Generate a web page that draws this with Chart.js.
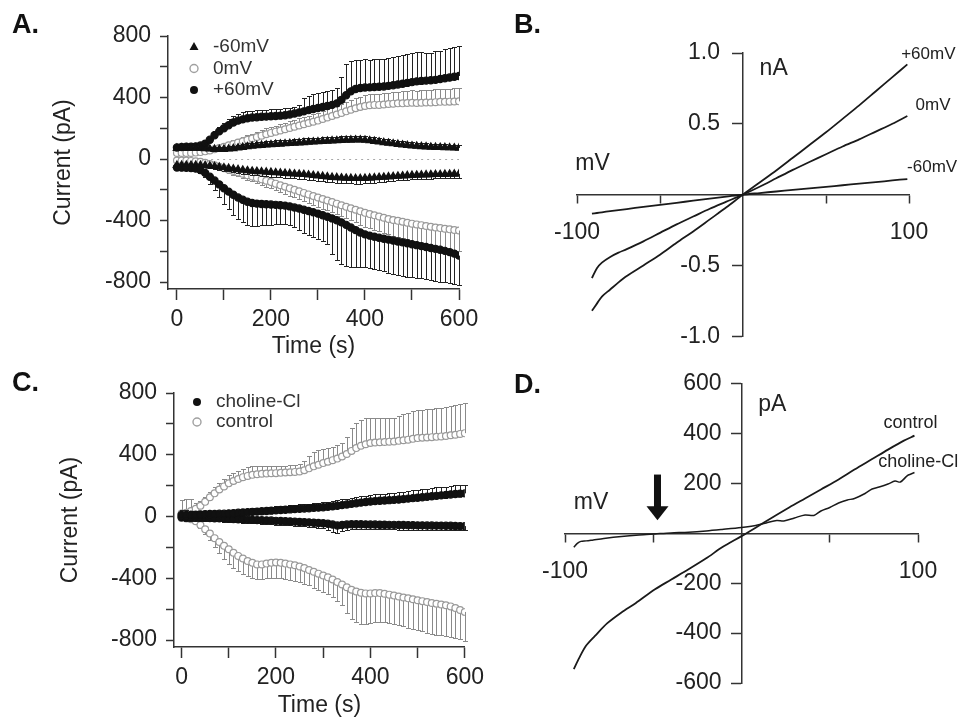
<!DOCTYPE html>
<html lang="en">
<head>
<meta charset="UTF-8">
<title>Current time course and I-V curves</title>
<style>
    body { margin: 0; background: #fff; }
    #fig { position: relative; width: 971px; height: 719px; overflow: hidden; }
    canvas { position: absolute; }
    .panel { position: absolute; font: bold 27px "Liberation Sans", Arial, sans-serif; line-height: 27px; color: #111; }
</style>
</head>
<body>
<div id="fig">
    <canvas id="chartA" width="490" height="360" style="left:0;top:0"></canvas>
    <canvas id="chartB" width="481" height="360" style="left:490px;top:0"></canvas>
    <canvas id="chartC" width="490" height="359" style="left:0;top:360px"></canvas>
    <canvas id="chartD" width="481" height="359" style="left:490px;top:360px"></canvas>
    <div class="panel" style="left:12px;top:11px">A.</div>
    <div class="panel" style="left:514px;top:11px">B.</div>
    <div class="panel" style="left:12px;top:369px">C.</div>
    <div class="panel" style="left:514px;top:371px">D.</div>
</div>

<script src="https://cdn.jsdelivr.net/npm/chart.js@4.4.0/dist/chart.umd.min.js"></script>
<script>
    // ---- time course data (panels A and C), one sample every 10 s ----
    const times = [0,10,20,30,40,50,60,70,80,90,100,110,120,130,140,150,160,170,180,190,
        200,210,220,230,240,250,260,270,280,290,300,310,320,330,340,350,360,370,380,390,
        400,410,420,430,440,450,460,470,480,490,500,510,520,530,540,550,560,570,580,590,600];
    const timeTicks = [0, 100, 200, 300, 400, 500, 600];
    const timeLabels = [0, 200, 400, 600];
    const currentTicks = [-800, -600, -400, -200, 0, 200, 400, 600, 800];
    const currentLabels = [-800, -400, 0, 400, 800];

    const aNames = ['-60mV', '0mV', '+60mV'];
    // -60 mV holding (triangles)
    const aNeg60Up = [70,72,72,72,72,70,68,66,64,63, 64,66,69,73,77,81,85,88,90,92,
        94,96,98,100,102,104,106,108,110,112, 113,115,117,119,120,122,123,124,125,125,
        123,120,116,112,108,104,100,96,92,89, 86,84,82,80,78,77,76,75,74,73, 72];
    const aNeg60UpErr = [10,10,10,10,10,10,10,12,12,14, 15,16,18,20,20,22,22,24,24,25,
        25,25,25,25,25,25,25,26,26,26, 26,26,26,26,26,26,26,25,25,25,
        25,25,25,24,24,24,24,24,23,23, 23,22,22,22,22,21,21,21,20,20, 20];
    const aNeg60Lo = [-40,-40,-40,-40,-40,-40,-42,-45,-48,-52, -56,-60,-64,-68,-72,-75,-78,-80,-82,-84,
        -86,-88,-90,-92,-94,-96,-98,-100,-103,-106, -109,-112,-115,-118,-120,-122,-124,-125,-126,-126,
        -125,-123,-121,-119,-117,-115,-113,-111,-109,-107, -105,-104,-103,-102,-101,-100,-100,-99,-98,-97, -96];
    const aNeg60LoErr = [10,10,10,10,10,12,12,14,16,18, 20,20,22,22,24,24,26,26,28,28,
        30,30,30,30,30,30,32,32,32,32, 32,32,34,34,34,34,34,34,34,34,
        32,32,32,30,30,30,30,28,28,28, 28,26,26,26,26,26,25,25,25,25, 25];
    // 0 mV holding (open grey circles)
    const aZeroUp = [40,40,40,40,42,45,50,56,63,71, 80,89,98,107,116,125,134,143,152,161,
        170,178,186,194,202,210,218,226,234,242, 250,260,270,280,290,300,310,320,330,338,
        345,350,352,352,355,358,360,362,362,364, 366,364,366,368,368,370,372,372,373,374, 375];
    const aZeroUpErr = [8,8,8,8,10,10,12,14,16,18, 20,22,24,26,28,30,32,34,36,38,
        40,40,42,42,44,44,46,46,48,48, 50,52,54,56,58,60,62,64,66,68,
        70,70,72,72,74,74,76,76,78,78, 80,80,80,82,82,84,84,85,85,85, 85];
    const aZeroLo = [-10,-10,-10,-12,-14,-18,-24,-32,-40,-50, -60,-69,-78,-87,-96,-105,-114,-123,-132,-141,
        -150,-160,-170,-180,-190,-200,-210,-220,-230,-240, -250,-260,-270,-280,-290,-300,-310,-320,-330,-340,
        -350,-358,-366,-374,-382,-390,-396,-402,-408,-414, -420,-425,-430,-435,-440,-445,-449,-453,-457,-461, -465];
    const aZeroLoErr = [8,8,8,8,10,10,12,14,16,18, 20,22,24,26,28,30,32,34,36,38,
        40,42,44,46,48,50,52,54,56,58, 60,62,64,66,68,70,74,78,82,86,
        90,92,94,96,98,100,102,104,106,108, 110,112,114,116,118,120,122,124,126,128, 130];
    // +60 mV holding (filled black circles)
    const aPos60Up = [75,78,80,80,82,88,100,125,155,180, 200,220,238,250,258,265,270,272,275,276,
        278,280,282,285,290,296,303,310,318,325, 332,338,345,352,362,385,415,440,455,462,
        465,466,468,470,472,476,480,485,490,495, 500,505,508,510,512,515,520,525,530,535, 540];
    const aPos60UpErr = [8,8,8,10,10,12,15,20,25,30, 35,38,40,42,45,45,45,45,45,45,
        45,45,45,45,45,45,50,90,95,95, 100,100,100,100,100,150,200,200,190,185,
        185,180,180,180,180,180,185,185,185,185, 190,190,185,180,180,185,185,190,195,195, 195];
    const aPos60Lo = [-55,-56,-57,-58,-62,-72,-90,-115,-140,-165, -190,-212,-232,-250,-265,-278,-286,-290,-292,-294,
        -296,-298,-300,-303,-308,-315,-322,-330,-338,-346, -355,-365,-375,-386,-398,-412,-428,-445,-462,-478,
        -490,-498,-505,-512,-518,-524,-530,-536,-542,-548, -554,-560,-566,-572,-578,-584,-590,-597,-605,-615, -628];
    const aPos60LoErr = [10,10,10,12,15,20,30,45,60,80, 100,115,130,140,145,150,148,145,140,135,
        130,125,122,120,118,125,140,150,158,162, 165,170,180,230,260,270,265,255,240,225,
        215,212,210,210,212,215,218,220,220,218, 215,212,210,210,210,210,208,205,200,195, 190];

    const cNames = ['choline-Cl', 'control'];
    const cCholUp = [10,10,12,12,14,15,16,17,18,18, 20,22,24,26,28,30,32,34,36,38,
        40,42,44,46,48,50,52,54,56,58, 60,63,66,70,74,78,82,86,90,94,
        97,100,102,104,106,108,110,113,116,119, 122,125,128,131,134,137,140,143,146,148, 150];
    const cCholUpErr = [30,30,25,22,20,20,20,20,20,20, 20,20,20,22,22,22,24,24,24,24,
        25,25,26,26,28,28,30,30,32,32, 34,34,36,36,38,38,40,40,42,42,
        44,44,45,45,46,46,48,48,50,50, 50,52,52,52,54,54,54,55,55,55, 55];
    const cCholLo = [-5,-6,-6,-7,-8,-9,-10,-11,-12,-13, -15,-16,-18,-19,-20,-22,-23,-24,-25,-26,
        -28,-29,-30,-32,-33,-35,-36,-38,-40,-42, -44,-47,-52,-58,-55,-52,-50,-50,-50,-51,
        -52,-52,-53,-53,-54,-54,-55,-55,-56,-56, -57,-57,-58,-58,-59,-59,-60,-60,-61,-62, -62];
    const cCholLoErr = [20,20,20,20,20,20,20,20,20,20, 20,20,20,20,22,22,22,22,24,24,
        24,24,26,26,26,26,28,28,30,30, 32,40,50,50,40,34,32,30,30,30,
        30,30,30,30,30,30,30,30,30,30, 30,30,30,30,30,30,30,28,28,28, 28];
    const cCtrlUp = [20,25,35,50,70,95,125,150,175,195, 215,230,243,255,263,270,274,277,279,280,
        281,283,285,287,289,292,300,312,325,335, 346,355,365,375,389,405,425,443,458,468,
        476,479,481,483,485,486,490,494,498,503, 508,510,512,514,516,519,522,526,530,535, 540];
    const cCtrlUpErr = [90,90,80,40,30,30,35,40,45,50, 52,54,55,55,55,55,50,48,46,45,
        43,43,43,44,45,45,60,80,90,95, 90,90,88,86,86,110,150,165,170,170,
        165,160,160,158,155,150,160,170,175,178, 180,182,184,185,186,187,188,190,192,194, 195];
    const cCtrlLo = [-10,-12,-18,-30,-55,-82,-110,-140,-165,-190, -212,-235,-255,-272,-288,-300,-310,-310,-305,-300,
        -298,-300,-305,-310,-316,-324,-334,-346,-358,-370, -382,-394,-408,-424,-440,-458,-474,-486,-494,-498,
        -498,-496,-496,-500,-506,-512,-518,-524,-530,-536, -542,-548,-554,-560,-565,-570,-575,-582,-592,-605, -618];
    const cCtrlLoErr = [10,10,12,15,20,30,40,55,70,85, 95,100,100,100,100,98,96,95,95,96,
        98,100,100,100,100,100,100,100,102,104, 106,110,115,120,130,170,190,200,200,195,
        190,190,188,186,185,185,186,188,190,192, 195,196,198,200,200,200,198,196,195,190, 185];

    // ---- I-V data (panels B and D) ----
    const voltTicks = [-100, -50, 50, 100];
    const voltLabels = [-100, 100];
    const bVolts = [-91,-88,-85,-80,-75,-70,-60,-50,-40,-30,-20,-10,0,10,20,30,40,50,60,70,80,90,99];
    const bPos60 = [-0.82,-0.77,-0.72,-0.67,-0.62,-0.575,-0.50,-0.425,-0.34,-0.26,-0.175,-0.09,0,
        0.085,0.17,0.26,0.35,0.44,0.535,0.63,0.73,0.83,0.92];
    const bZero = [-0.59,-0.52,-0.48,-0.44,-0.41,-0.385,-0.33,-0.27,-0.21,-0.155,-0.10,-0.05,0,
        0.055,0.115,0.175,0.23,0.285,0.34,0.39,0.445,0.50,0.555];
    const bNeg60 = [-0.135,-0.13,-0.125,-0.117,-0.11,-0.102,-0.087,-0.072,-0.058,-0.043,-0.028,-0.014,0,
        0.011,0.022,0.033,0.044,0.055,0.066,0.077,0.088,0.10,0.11];
    const bTicks = [-1, -0.5, 0.5, 1];

    const dCtrlVolts = [-95,-92,-88,-83,-76,-68,-60,-49,-40,-30,-20,-11,0,8,17,27,36,45,55,64,74,83,92,98];
    const dCtrl = [-544,-500,-450,-411,-360,-317,-280,-224,-186,-144,-100,-56,-11,23,62,104,140,176,216,256,298,336,372,392];
    const dCholVolts = [-95,-93,-91,-88,-84,-78,-68,-58,-49,-40,-30,-20,-11,0,8,14,20,24,30,36,41,45,50,55,60,64,70,74,78,83,87,90,94,96,98];
    const dChol = [-56,-40,-32,-30,-26,-20,-12,-6,-2,2,5,10,16,24,32,42,52,50,62,74,72,90,104,122,134,140,160,178,186,198,210,206,232,238,244];
    const dTicks = [-600, -400, -200, 200, 400, 600];

    // ---- plugins ----
    const errorBars = {
        id: 'errorBars',
        beforeDatasetDraw(chart, args) {
            const ds = chart.data.datasets[args.index];
            if (!ds.errors) return;
            const xs = chart.scales.x, ys = chart.scales.y, ctx = chart.ctx;
            ctx.save();
            ctx.strokeStyle = ds.errorColor;
            ctx.lineWidth = 1;
            ctx.beginPath();
            ds.data.forEach((p, i) => {
                const px = Math.round(xs.getPixelForValue(p.x)) + 0.5;
                const y0 = ys.getPixelForValue(p.y);
                const y1 = Math.round(ys.getPixelForValue(p.y + ds.errorDir * ds.errors[i])) + 0.5;
                ctx.moveTo(px, y0);
                ctx.lineTo(px, y1);
                ctx.moveTo(px - 2.5, y1);
                ctx.lineTo(px + 2.5, y1);
            });
            ctx.stroke();
            ctx.restore();
        }
    };

    const zeroLine = {
        id: 'zeroLine',
        beforeDatasetsDraw(chart, args, opts) {
            if (!opts.show) return;
            const xs = chart.scales.x, ys = chart.scales.y, ctx = chart.ctx;
            const y = Math.round(ys.getPixelForValue(0)) + 0.5;
            ctx.save();
            ctx.strokeStyle = '#a8a8a8';
            ctx.setLineDash([2, 4]);
            ctx.beginPath();
            ctx.moveTo(xs.getPixelForValue(opts.from), y);
            ctx.lineTo(xs.getPixelForValue(600), y);
            ctx.stroke();
            ctx.restore();
        }
    };

    function drawMarker(ctx, kind, x, y) {
        ctx.beginPath();
        if (kind === 'triangle') {
            ctx.moveTo(x, y - 5);
            ctx.lineTo(x + 4.5, y + 3);
            ctx.lineTo(x - 4.5, y + 3);
            ctx.closePath();
            ctx.fillStyle = '#111';
            ctx.fill();
        } else if (kind === 'open') {
            ctx.arc(x, y, 4, 0, Math.PI * 2);
            ctx.fillStyle = '#fff';
            ctx.fill();
            ctx.strokeStyle = '#a0a0a0';
            ctx.lineWidth = 1.4;
            ctx.stroke();
        } else {
            ctx.arc(x, y, 4, 0, Math.PI * 2);
            ctx.fillStyle = '#111';
            ctx.fill();
        }
    }

    const markerLegend = {
        id: 'markerLegend',
        afterDraw(chart, args, opts) {
            if (!opts.rows) return;
            const ctx = chart.ctx, area = chart.chartArea;
            ctx.save();
            ctx.font = '19px "Liberation Sans", Arial, sans-serif';
            ctx.textBaseline = 'middle';
            opts.rows.forEach((row, i) => {
                const x = area.left + opts.dx, y = area.top + opts.dy + i * opts.gap;
                drawMarker(ctx, row.kind, x, y);
                ctx.fillStyle = '#333';
                ctx.fillText(row.text, x + 19, y);
            });
            ctx.restore();
        }
    };

    // text placed in data units, y tick labels right-aligned left of the crossing axis, and the arrow
    const textMarks = {
        id: 'textMarks',
        afterDatasetsDraw(chart, args, opts) {
            const ctx = chart.ctx, xs = chart.scales.x, ys = chart.scales.y;
            ctx.save();
            ctx.textBaseline = 'middle';
            ctx.fillStyle = '#222';
            (opts.rows || []).forEach(row => {
                ctx.font = row.size + 'px "Liberation Sans", Arial, sans-serif';
                ctx.textAlign = row.align;
                ctx.fillText(row.text, xs.getPixelForValue(row.x), ys.getPixelForValue(row.y));
            });
            if (opts.yTicks) {
                ctx.font = '23px "Liberation Sans", Arial, sans-serif';
                ctx.textAlign = 'right';
                const x0 = xs.getPixelForValue(0) - opts.yGap;
                opts.yTicks.forEach(v => ctx.fillText(opts.yFormat(v), x0, ys.getPixelForValue(v)));
            }
            if (opts.arrow) {
                const a = opts.arrow;
                const x = xs.getPixelForValue(a.x);
                const yTop = ys.getPixelForValue(a.top);
                const yHead = ys.getPixelForValue(a.head);
                const yTip = ys.getPixelForValue(a.tip);
                ctx.fillStyle = '#111';
                ctx.fillRect(x - 3.5, yTop, 7, yHead - yTop + 1);
                ctx.beginPath();
                ctx.moveTo(x - 11, yHead);
                ctx.lineTo(x + 11, yHead);
                ctx.lineTo(x, yTip);
                ctx.closePath();
                ctx.fill();
            }
            ctx.restore();
        }
    };

    Chart.register(errorBars, zeroLine, markerLegend, textMarks);
    Chart.defaults.font.family = '"Liberation Sans", Arial, sans-serif';
    Chart.defaults.color = '#222';
    Chart.defaults.animation = false;

    const STYLES = {
        triangle: {pointStyle: 'triangle', radius: 4.2, bg: '#111', border: '#111', bar: '#222'},
        black: {pointStyle: 'circle', radius: 3.6, bg: '#111', border: '#111', bar: '#222'},
        open: {pointStyle: 'circle', radius: 3.4, bg: '#fff', border: '#9a9a9a', bar: '#8a8a8a'}
    };

    function trace(values, errors, dir, kind) {
        const st = STYLES[kind];
        return {
            data: times.map((t, i) => ({x: t, y: values[i]})),
            errors: errors,
            errorDir: dir,
            errorColor: st.bar,
            pointStyle: st.pointStyle,
            pointRadius: st.radius,
            pointBackgroundColor: st.bg,
            pointBorderColor: st.border,
            pointBorderWidth: 1.2,
            showLine: false
        };
    }

    function timeScales(xMin, yWidth, xHeight) {
        return {
            x: {
                type: 'linear', min: xMin, max: 600,
                afterBuildTicks: s => { s.ticks = timeTicks.map(v => ({value: v})); },
                afterFit: s => { s.height = xHeight; },
                grid: {drawOnChartArea: false, tickLength: 11, color: '#333', tickWidth: 1.5},
                border: {color: '#333', width: 1.5},
                ticks: {font: {size: 23}, padding: 6, autoSkip: false, maxRotation: 0,
                    callback: v => timeLabels.includes(v) ? String(v) : ''},
                title: {display: true, text: 'Time (s)', font: {size: 23}, padding: {top: 0, bottom: 0}}
            },
            y: {
                type: 'linear', min: -845, max: 800,
                afterBuildTicks: s => { s.ticks = currentTicks.map(v => ({value: v})); },
                afterFit: s => { s.width = yWidth; },
                grid: {drawOnChartArea: false, tickLength: 8, color: '#333', tickWidth: 1.5},
                border: {color: '#333', width: 1.5},
                ticks: {font: {size: 23}, padding: 9, autoSkip: false,
                    callback: v => currentLabels.includes(v) ? String(v) : ''},
                title: {display: true, text: 'Current (pA)', font: {size: 23}}
            }
        };
    }

    // axes crossing at the origin; the crossing y axis keeps its (hidden) labels for layout,
    // the visible ones come from textMarks so they sit left of the tick marks
    function ivScales(yMin, yMax, yTicks, yFormat) {
        return {
            x: {
                type: 'linear', min: -100, max: 100, position: {y: 0},
                afterBuildTicks: s => { s.ticks = voltTicks.map(v => ({value: v})); },
                grid: {drawOnChartArea: false, tickLength: 8, color: '#333', tickWidth: 1.5},
                border: {color: '#333', width: 1.5},
                ticks: {font: {size: 23}, padding: 16, autoSkip: false, maxRotation: 0,
                    callback: v => voltLabels.includes(v) ? String(v) : ''}
            },
            y: {
                type: 'linear', min: yMin, max: yMax, position: {x: 0},
                afterBuildTicks: s => { s.ticks = yTicks.map(v => ({value: v})); },
                grid: {drawOnChartArea: false, tickLength: 10, color: '#333', tickWidth: 1.5},
                border: {color: '#333', width: 1.5},
                ticks: {font: {size: 23}, padding: 10, autoSkip: false, color: 'rgba(0,0,0,0)', callback: yFormat}
            }
        };
    }

    function ivLine(volts, values, width) {
        return {
            data: volts.map((v, i) => ({x: v, y: values[i]})),
            showLine: true, pointRadius: 0, borderColor: '#1a1a1a', borderWidth: width, tension: 0.3
        };
    }

    const quiet = {legend: {display: false}, tooltip: {enabled: false}};
    const fmtB = v => v.toFixed(1);
    const fmtD = v => String(v);

    new Chart(document.getElementById('chartA'), {
        type: 'scatter',
        data: {
            datasets: [
                trace(aNeg60Up, aNeg60UpErr, 1, 'triangle'),
                trace(aNeg60Lo, aNeg60LoErr, -1, 'triangle'),
                trace(aPos60Up, aPos60UpErr, 1, 'black'),
                trace(aPos60Lo, aPos60LoErr, -1, 'black'),
                trace(aZeroUp, aZeroUpErr, 1, 'open'),
                trace(aZeroLo, aZeroLoErr, -1, 'open')
            ]
        },
        options: {
            responsive: false, devicePixelRatio: 1,
            layout: {padding: {left: 46, right: 31, top: 36, bottom: 0}},
            scales: timeScales(-19, 122, 71),
            plugins: {
                ...quiet,
                zeroLine: {show: true, from: 60},
                markerLegend: {dx: 26, dy: 11, gap: 21.5, rows: [
                    {kind: 'triangle', text: aNames[0]},
                    {kind: 'open', text: aNames[1]},
                    {kind: 'black', text: aNames[2]}
                ]}
            }
        }
    });

    new Chart(document.getElementById('chartC'), {
        type: 'scatter',
        data: {
            datasets: [
                trace(cCholUp, cCholUpErr, 1, 'black'),
                trace(cCholLo, cCholLoErr, -1, 'black'),
                trace(cCtrlUp, cCtrlUpErr, 1, 'open'),
                trace(cCtrlLo, cCtrlLoErr, -1, 'open')
            ]
        },
        options: {
            responsive: false, devicePixelRatio: 1,
            layout: {padding: {left: 53, right: 25, top: 33, bottom: 0}},
            scales: timeScales(-16, 121, 72),
            plugins: {
                ...quiet,
                markerLegend: {dx: 23, dy: 9, gap: 20, rows: [
                    {kind: 'black', text: cNames[0]},
                    {kind: 'open', text: cNames[1]}
                ]}
            }
        }
    });

    new Chart(document.getElementById('chartB'), {
        type: 'scatter',
        data: {
            datasets: [
                ivLine(bVolts, bPos60, 1.8),
                ivLine(bVolts, bZero, 1.8),
                ivLine(bVolts, bNeg60, 1.8)
            ]
        },
        options: {
            responsive: false, devicePixelRatio: 1,
            layout: {padding: {left: 87, right: 62, top: 53, bottom: 22}},
            scales: ivScales(-1, 1, bTicks, fmtB),
            plugins: {
                ...quiet,
                textMarks: {
                    rows: [
                        {text: '+60mV', x: 128, y: 0.99, align: 'right', size: 17},
                        {text: '0mV', x: 125, y: 0.63, align: 'right', size: 17},
                        {text: '-60mV', x: 129, y: 0.19, align: 'right', size: 17},
                        {text: 'nA', x: 10, y: 0.89, align: 'left', size: 23},
                        {text: 'mV', x: -101, y: 0.22, align: 'left', size: 23}
                    ],
                    yTicks: bTicks, yFormat: fmtB, yGap: 23
                }
            }
        }
    });

    new Chart(document.getElementById('chartD'), {
        type: 'scatter',
        data: {
            datasets: [
                ivLine(dCtrlVolts, dCtrl, 1.8),
                ivLine(dCholVolts, dChol, 1.5)
            ]
        },
        options: {
            responsive: false, devicePixelRatio: 1,
            layout: {padding: {left: 75, right: 53, top: 23, bottom: 36}},
            scales: ivScales(-600, 600, dTicks, fmtD),
            plugins: {
                ...quiet,
                textMarks: {
                    rows: [
                        {text: 'control', x: 80.5, y: 444, align: 'left', size: 18},
                        {text: 'choline-Cl', x: 77.5, y: 288, align: 'left', size: 18},
                        {text: 'pA', x: 9.5, y: 516, align: 'left', size: 23},
                        {text: 'mV', x: -95, y: 124, align: 'left', size: 23}
                    ],
                    yTicks: dTicks, yFormat: fmtD, yGap: 20,
                    arrow: {x: -47.6, top: 236, head: 109, tip: 53}
                }
            }
        }
    });
</script>
</body>
</html>
